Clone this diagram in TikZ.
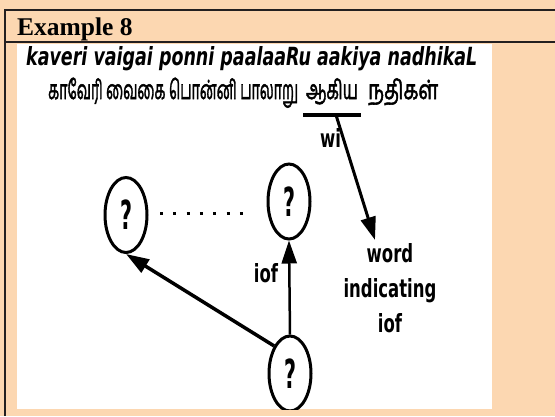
\documentclass[tikz,border=0pt]{standalone}
\usepackage{fontspec}
\usepackage{graphicx}
\usetikzlibrary{arrows.meta,shapes.geometric}
\setmainfont{Liberation Serif}
\newfontfamily\dvsans{DejaVu Sans}
\newfontfamily\tamilfont[Script=Tamil,FakeBold=2.2]{Hind Madurai}
\definecolor{peach}{RGB}{252,215,177}
\definecolor{rulecol}{RGB}{35,31,32}
% narrow (horizontally squeezed) lettering
\newcommand\narrow[1]{\scalebox{0.66}[1]{#1}}
% set a text to an exact width, keeping its height
\newcommand\fitto[2]{\resizebox{#1}{\height}{#2}}
% Tamil lettering, slightly tall
\newcommand\tamsize{\tamilfont\fontsize{24}{24}\selectfont}
\newcommand\tamfit[2]{\resizebox{#1}{1.1\height}{#2}}

\begin{document}
\begin{tikzpicture}[x=1pt,y=-1pt,
  frame/.style={draw=rulecol,line width=2.2pt},
  qnode/.style={draw=black,line width=3pt,ellipse,minimum width=42pt,
    minimum height=75pt,inner sep=0pt,
    font=\dvsans\bfseries\fontsize{40}{40}\selectfont},
  lbl/.style={inner sep=0pt,font=\dvsans\bfseries\fontsize{25}{35}\selectfont},
  tam/.style={inner sep=0pt,font=\tamsize},
  link/.style={draw=black,-{Triangle[length=23pt,width=15pt]}},
  dotrow/.style={draw=black,line width=3pt,dash pattern=on 3pt off 10.3pt},
]
\useasboundingbox (0,0) rectangle (555,416);
% page background and picture panel
\fill[peach] (0,0) rectangle (555,416);
\fill[white] (17,44) rectangle (492,409);
% table rules
\draw[frame] (555,10) -- (5,10) -- (5,416);
\draw[frame] (5,42) -- (555,42);
\node[anchor=base west,inner sep=0pt,font=\bfseries\fontsize{25.5}{25.5}\selectfont]
  (heading) at (17,35) {Example 8};

% transliterated sentence and the Tamil original
\node[anchor=base west,inner sep=0pt,
  font=\dvsans\bfseries\itshape\fontsize{25}{25}\selectfont]
  (translit) at (26,65) {\fitto{451pt}{kaveri vaigai ponni paalaaRu aakiya nadhikaL}};
\node[tam,anchor=base west] (tamA) at (48,99) {\tamfit{250pt}{காவேரி வைகை பொன்னி பாலாறு}};
\node[tam,anchor=base] (tamB) at (332,99) {\tamfit{52pt}{ஆகிய}};
\node[tam,anchor=base west] (tamC) at (368,99) {\tamfit{70pt}{நதிகள்}};
\draw[line width=3.5pt] (303,115) -- (361,115);
\coordinate (ul) at (336,115);

% concept nodes
\node[qnode] (qL) at (126,215) {\fitto{12pt}{?}};
\node[qnode] (qT) at (289,201.5) {\fitto{12pt}{?}};
\begin{scope}
  \clip (17,44) rectangle (492,409);
  \node[qnode] (qB) at (290,373.5) {\fitto{12pt}{?}};
\end{scope}

% labels
\node[lbl,anchor=base west] (wi) at (320,147) {\narrow{wi}};
\node[lbl,anchor=base] (iofL) at (266,282) {\narrow{iof}};
\node[lbl,anchor=north,align=center] (word) at (390,243)
  {\narrow{word}\\\narrow{indicating}\\\narrow{iof}};

% connectors
\coordinate (d0) at (160,213);
\coordinate (d1) at (243,213);
\draw[dotrow] (d0) -- (d1);
\draw[link,line width=3.5pt] (qB.120) -- (qL.south);
\draw[link,line width=2.5pt] (qB.north) -- (qT.south);
\draw[link,line width=3pt] (ul) -- ([xshift=-15pt,yshift=3pt]word.north);
\end{tikzpicture}
\end{document}
